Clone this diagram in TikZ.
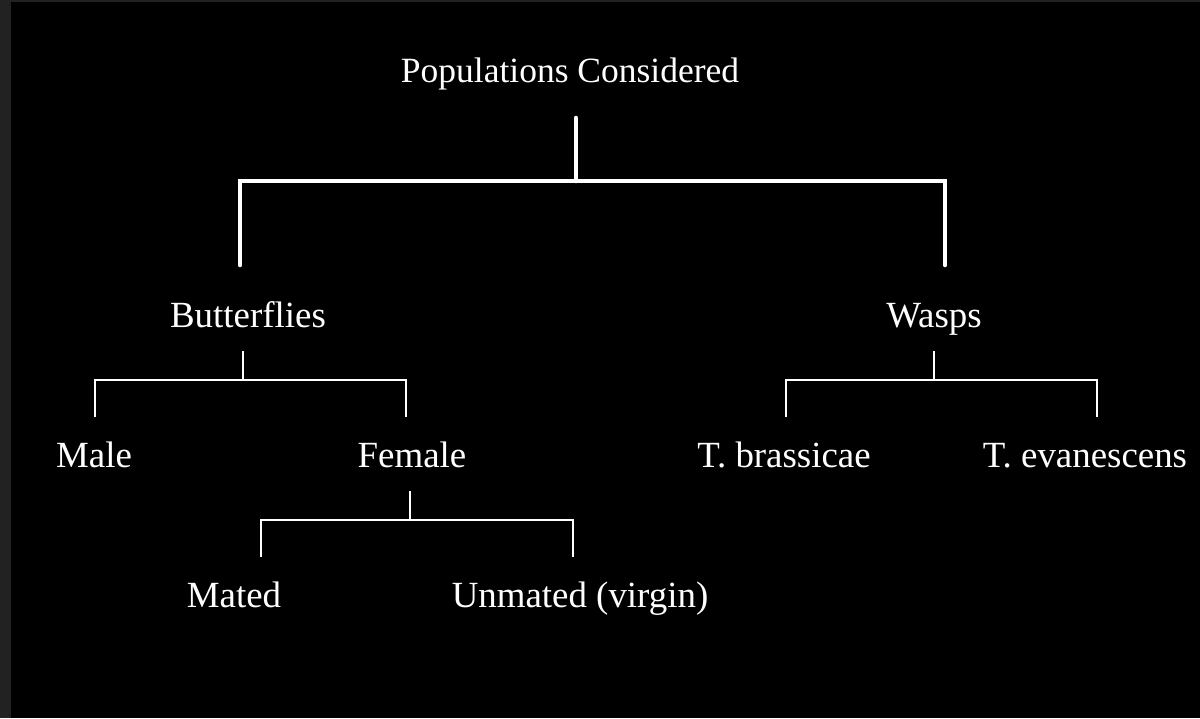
\documentclass[tikz,border=0pt]{standalone}
\usepackage{fontspec}
\setmainfont{Liberation Serif}
\definecolor{edgegray}{HTML}{222222}
\tikzset{
  lbl/.style={text=white, anchor=base, inner sep=0pt, font=\fontsize{21}{25}\selectfont},
  toplbl/.style={lbl, font=\fontsize{20.2}{24}\selectfont},
  mainbar/.style={draw=white, line width=2.6pt, line cap=round},
  subbar/.style={draw=white, line width=1.2pt}
}

\begin{document}
\begin{tikzpicture}[x=0.02cm, y=-0.02cm]
  % background
  \fill[black] (0,0) rectangle (1200,718);
  \fill[edgegray] (0,0) rectangle (11,718);
  \fill[edgegray] (0,0) rectangle (1200,2);
  \useasboundingbox (0,0) rectangle (1200,718);

  % labels
  \node[toplbl] (pop) at (570,82) {Populations Considered};
  \node[lbl] (bfly) at (248,327) {Butterflies};
  \node[lbl] (wasp) at (934,327) {Wasps};
  \node[lbl] (male) at (94,467) {Male};
  \node[lbl] (fem) at (412,467) {Female};
  \node[lbl] (tbra) at (784,467) {T. brassicae};
  \node[lbl] (teva) at (1085,467) {T. evanescens};
  \node[lbl] (mated) at (234,607) {Mated};
  \node[lbl] (unmated) at (580,607) {Unmated (virgin)};

  % line ends
  \coordinate (popstem) at (576,118);
  \coordinate (pophub) at (576,181);
  \coordinate (bflyend) at (240,265);
  \coordinate (waspend) at (945,265);
  \coordinate (bflystem) at (243,351);
  \coordinate (bflyhub) at (243,380);
  \coordinate (maleend) at (95,417);
  \coordinate (femend) at (406,417);
  \coordinate (waspstem) at (934,351);
  \coordinate (wasphub) at (934,380);
  \coordinate (tbraend) at (786,417);
  \coordinate (tevaend) at (1097,417);
  \coordinate (femstem) at (410,491);
  \coordinate (femhub) at (410,520);
  \coordinate (matedend) at (261,557);
  \coordinate (unmatedend) at (573,557);

  % top level
  \draw[mainbar] (popstem) -- (pophub);
  \draw[mainbar] (bflyend) -- (bflyend |- pophub) -- (waspend |- pophub) -- (waspend);

  % butterflies
  \draw[subbar] (bflystem) -- (bflyhub);
  \draw[subbar] (maleend) -- (maleend |- bflyhub) -- (femend |- bflyhub) -- (femend);

  % wasps
  \draw[subbar] (waspstem) -- (wasphub);
  \draw[subbar] (tbraend) -- (tbraend |- wasphub) -- (tevaend |- wasphub) -- (tevaend);

  % female
  \draw[subbar] (femstem) -- (femhub);
  \draw[subbar] (matedend) -- (matedend |- femhub) -- (unmatedend |- femhub) -- (unmatedend);
\end{tikzpicture}
\end{document}
